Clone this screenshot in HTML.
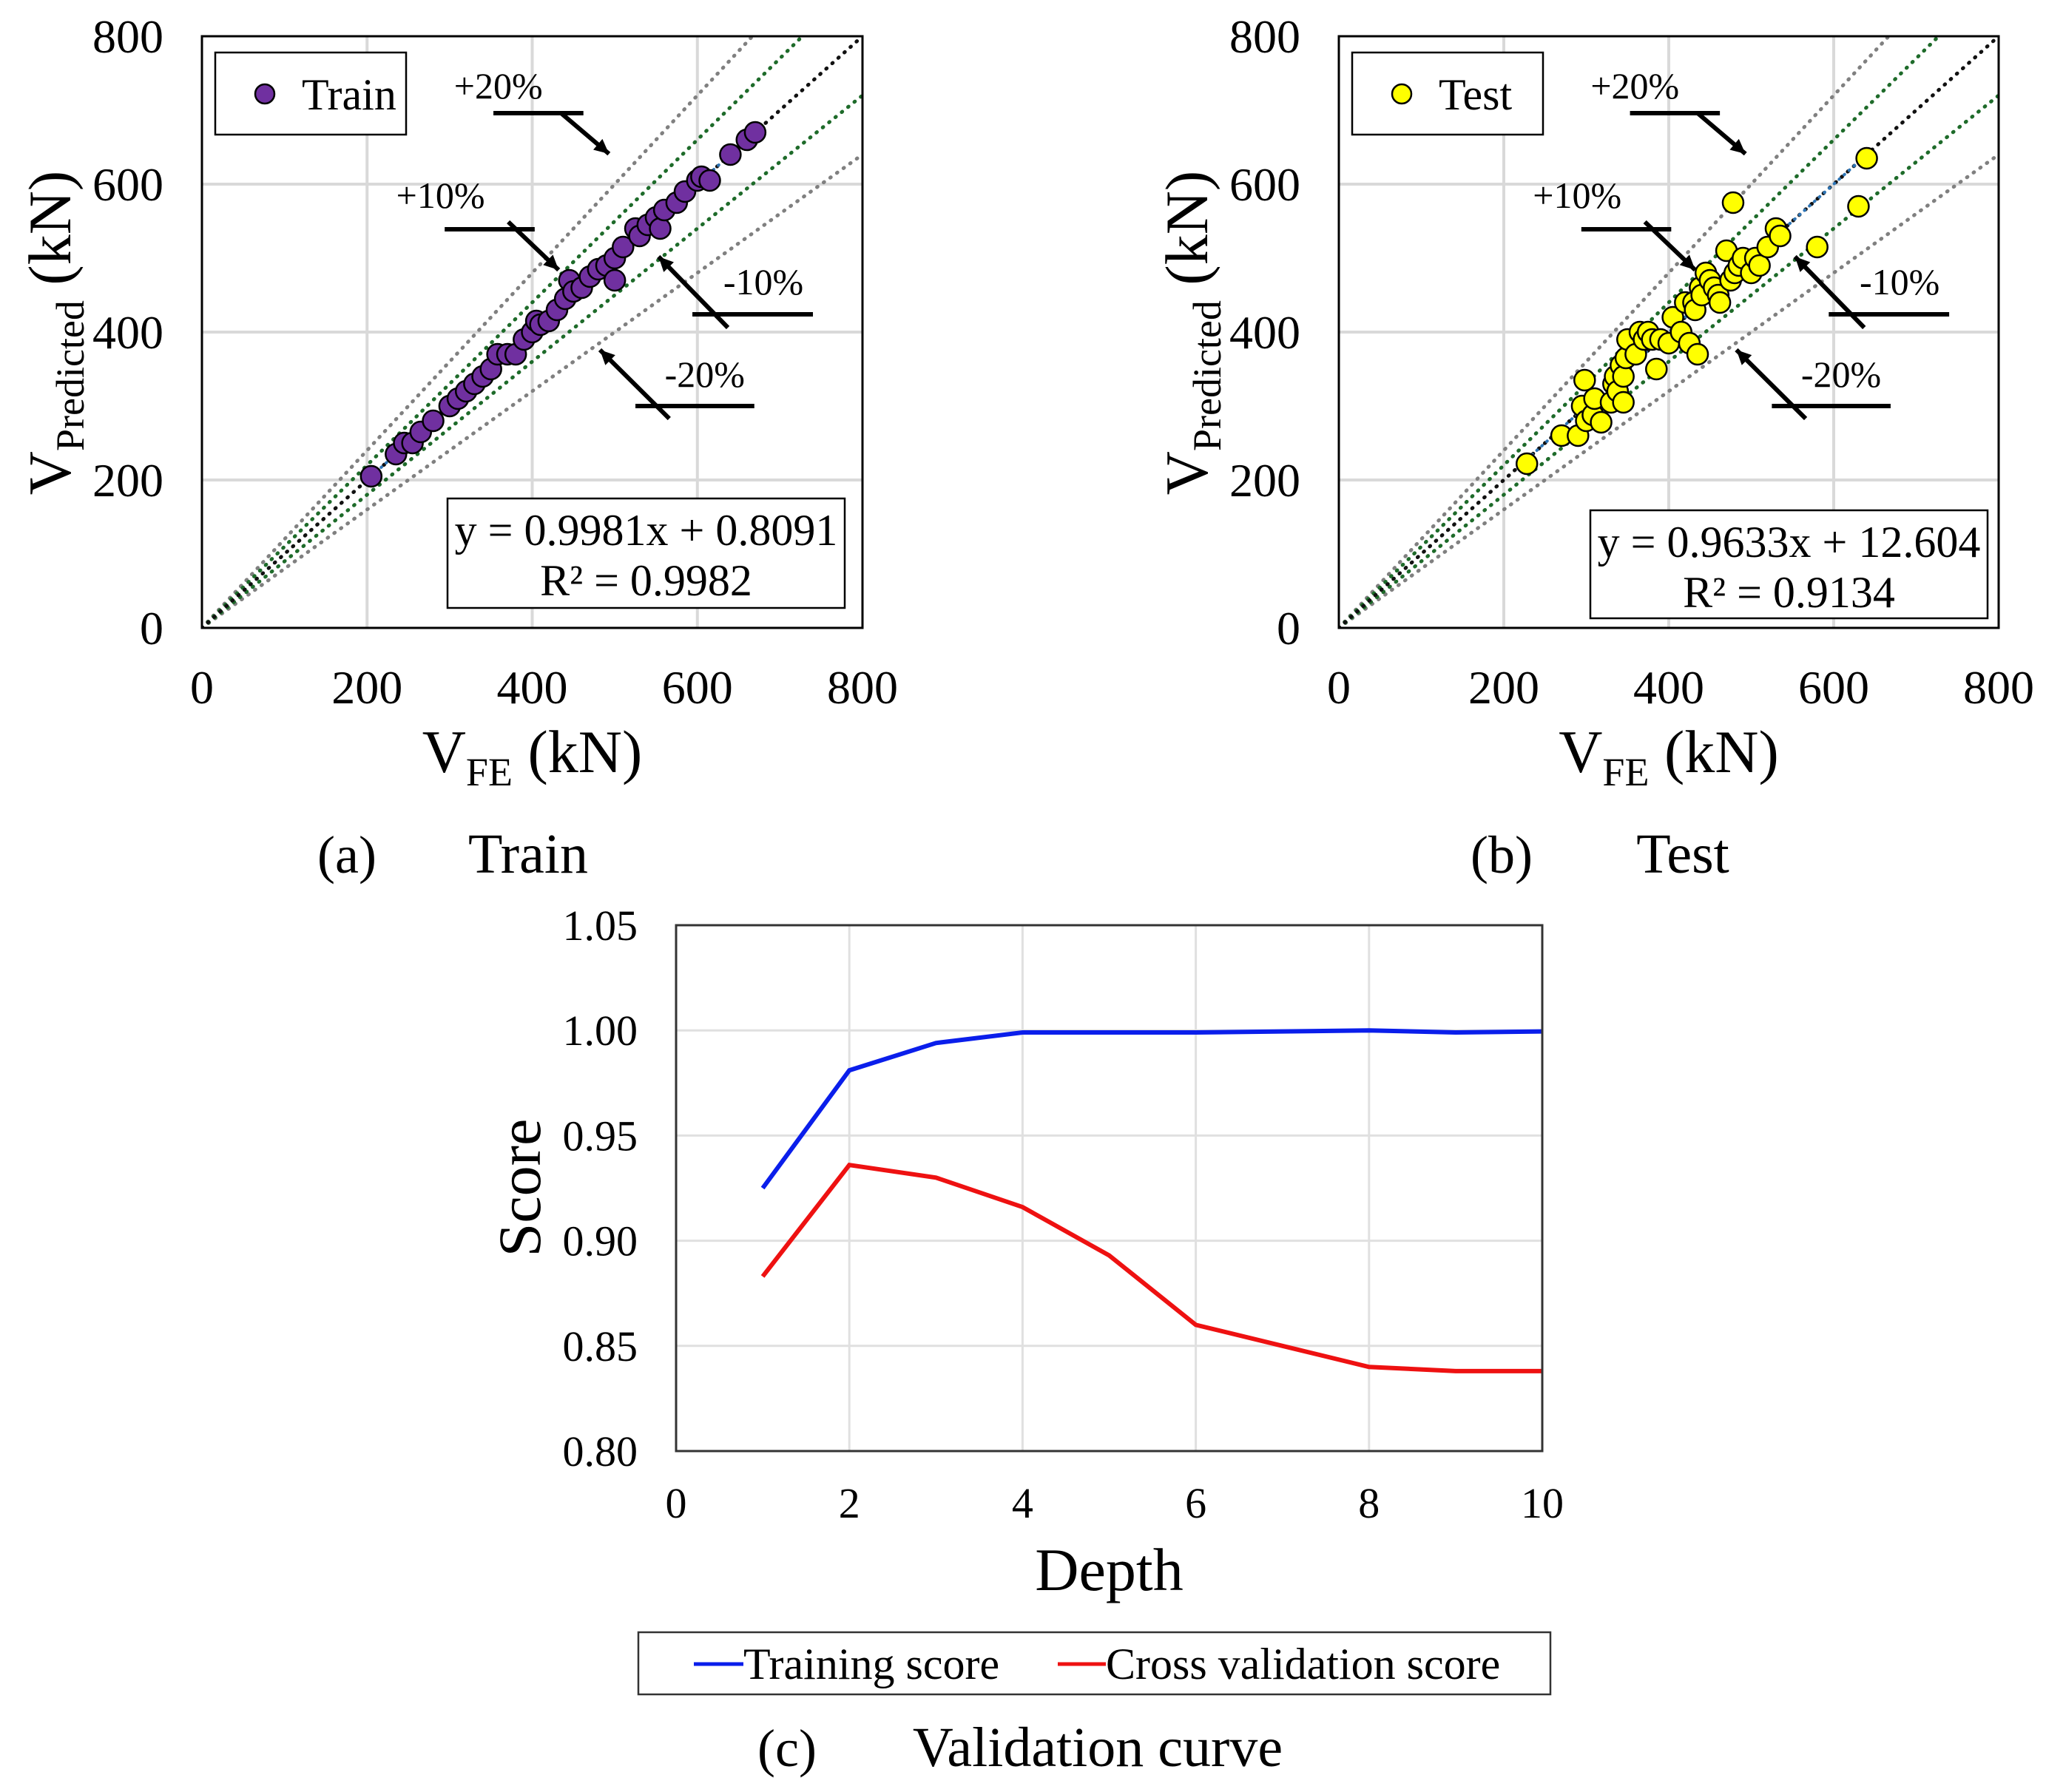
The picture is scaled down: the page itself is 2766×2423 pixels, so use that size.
<!DOCTYPE html>
<html><head><meta charset="utf-8"><style>
html,body{margin:0;padding:0;background:#fff}
svg{display:block;font-family:"Liberation Serif",serif}
</style></head><body>
<svg id="root" width="2766" height="2423" viewBox="0 0 2766 2423" xmlns="http://www.w3.org/2000/svg"></svg>
<script>
// ---- data ----
const trainX=[205,235,245,255,265,280,300,310,320,330,340,350,358,370,380,390,400,405,410,420,430,440,445,450,460,470,480,490,500,500,510,525,530,540,550,555,560,575,585,600,605,615,640,660,670];
const trainY=[205,235,250,250,265,280,300,310,320,330,340,350,370,370,370,390,400,415,410,415,430,445,470,455,460,475,485,490,470,500,515,540,530,545,555,540,565,575,590,605,610,605,640,660,670];
const testX=[228,270,290,295,298,300,308,310,318,330,333,335,338,342,345,345,348,350,360,365,370,375,380,385,390,400,405,415,420,425,430,432,435,438,440,445,450,455,460,462,470,475,478,480,485,490,500,505,510,520,530,535,580,630,640];
const testY=[222,260,260,300,335,280,288,310,278,305,330,340,320,355,305,340,365,390,370,400,390,400,390,350,390,385,420,400,440,385,440,430,370,460,450,480,470,460,450,440,510,470,575,480,490,500,480,500,490,515,540,530,515,570,635];
const scatTicks=[0,200,400,600,800];
const depth=[1,2,3,4,5,6,7,8,9,10];
const trainScore=[0.925,0.981,0.994,0.999,0.999,0.999,0.9995,1.000,0.999,0.9995];
const cvScore=[0.883,0.936,0.930,0.916,0.893,0.860,0.850,0.840,0.838,0.838];
const scoreTicks=[0.80,0.85,0.90,0.95,1.00,1.05];
const depthTicks=[0,2,4,6,8,10];

const NS="http://www.w3.org/2000/svg";
const root=document.getElementById('root');
function mk(tag,attrs,parent){const e=document.createElementNS(NS,tag);for(const k in attrs)e.setAttribute(k,attrs[k]);(parent||root).appendChild(e);return e;}

function scatterPanel(id,L,R,T,B,xs,ys,color,legendText,eq1,eq2,eqBox,caption,capX){
  const g=mk('g',{});
  
  
  const sx=v=>L+(v/800)*(R-L), sy=v=>B-(v/800)*(B-T);
  const clipId='clip'+id;
  const cp=mk('clipPath',{id:clipId},g);mk('rect',{x:L,y:T,width:R-L,height:B-T},cp);
  scatTicks.forEach(t=>{
    if(t>0&&t<800){
      const gx=mk('line',{x1:sx(t),x2:sx(t),y1:T,y2:B,stroke:'#d9d9d9','stroke-width':4},g);
      
      const gy=mk('line',{x1:L,x2:R,y1:sy(t),y2:sy(t),stroke:'#d9d9d9','stroke-width':4},g);
      
    }
    const xt=mk('text',{x:sx(t),y:B+102,'font-size':64,'text-anchor':'middle'},g);xt.textContent=t;
    
    const yt=mk('text',{x:L-52,y:sy(t)+22,'font-size':64,'text-anchor':'end'},g);yt.textContent=t;
    
  });
  const lines=[[1.2,'#808080'],[0.8,'#808080'],[1.1,'#1e6b2a'],[0.9,'#1e6b2a'],[1.0,'#111']];
  const lg=mk('g',{'clip-path':'url(#'+clipId+')'},g);
  lines.forEach(([k,c])=>{
    const ln=mk('line',{x1:sx(0),y1:sy(0),x2:sx(800),y2:sy(800*k),stroke:c,'stroke-width':5,'stroke-dasharray':'1 10','stroke-linecap':'round'},lg);
    
  });
  let mnx=Math.min(...xs),mxx=Math.max(...xs);
  const tr=mk('line',{x1:sx(mnx),y1:sy(mnx),x2:sx(mxx),y2:sy(mxx),stroke:'#2e75b6','stroke-width':4,'stroke-dasharray':'1 8','stroke-linecap':'round'},lg);
  
  xs.forEach((x,i)=>{
    const c=mk('circle',{cx:sx(x),cy:sy(ys[i]),r:14,fill:color,stroke:'#000','stroke-width':2.5},g);
    
  });
  const fr=mk('rect',{x:L,y:T,width:R-L,height:B-T,fill:'none',stroke:'#000','stroke-width':3},g);
  
  const ann=[['+20%',359,733,353,462,696,435,696,493,641],['+10%',289,585,294,403,539,371,549,432,484],
             ['-10%',680,468,594,740,424,637,406,553,502],['-20%',609,343,525,669,300,566,283,482,376]];
  ann.forEach(a=>{
    const t=mk('text',{x:sx(a[1]),y:sy(a[2])+17,'font-size':50,'text-anchor':'middle'},g);t.textContent=a[0];
    
    const h=mk('line',{x1:sx(a[3]),x2:sx(a[4]),y1:sy(a[5]),y2:sy(a[5]),stroke:'#000','stroke-width':6},g);
    
    const x1=sx(a[6]),y1=sy(a[7]),x2=sx(a[8]),y2=sy(a[9]);
    const ar=mk('line',{x1:x1,y1:y1,x2:x2,y2:y2,stroke:'#000','stroke-width':6},g);
    
    const ang=Math.atan2(y2-y1,x2-x1),s=22;
    const p=[[x2,y2],[x2-s*Math.cos(ang-0.45),y2-s*Math.sin(ang-0.45)],[x2-s*Math.cos(ang+0.45),y2-s*Math.sin(ang+0.45)]];
    const hd=mk('polygon',{points:p.map(q=>q.join(',')).join(' '),fill:'#000'},g);
    
  });
  const lgb=mk('rect',{x:L+18,y:T+22,width:258,height:111,fill:'#fff',stroke:'#000','stroke-width':2.5},g);
  
  const lc=mk('circle',{cx:L+85,cy:T+78,r:13,fill:color,stroke:'#000','stroke-width':2.5},g);
  
  const lt=mk('text',{x:L+135,y:T+99,'font-size':60},g);lt.textContent=legendText;
  
  const eb=mk('rect',{x:eqBox[0],y:eqBox[1],width:eqBox[2]-eqBox[0],height:eqBox[3]-eqBox[1],fill:'#fff',stroke:'#000','stroke-width':2.5},g);
  
  const cx=(eqBox[0]+eqBox[2])/2;
  const e1=mk('text',{x:cx,y:eqBox[1]+63,'font-size':60,'text-anchor':'middle'},g);e1.textContent=eq1;
  
  const e2=mk('text',{x:cx,y:eqBox[1]+131,'font-size':60,'text-anchor':'middle'},g);e2.textContent=eq2;
  
  const xtl=mk('text',{x:(L+R)/2,y:1044,'font-size':82,'text-anchor':'middle'},g);
  xtl.innerHTML='V<tspan font-size="54" dy="18">FE</tspan><tspan dy="-18"> (kN)</tspan>';
  
  const ytl=mk('text',{x:0,y:0,'font-size':82,'text-anchor':'middle',transform:'translate('+(L-178)+',450) rotate(-90)'},g);
  ytl.innerHTML='V<tspan font-size="54" dy="18">Predicted</tspan><tspan dy="-18"> (kN)</tspan>';
  
  const c1=mk('text',{x:capX,y:1180,'font-size':72,'text-anchor':'middle'},g);c1.textContent=caption[0];
  
  const c2=mk('text',{x:capX+245,y:1180,'font-size':76,'text-anchor':'middle'},g);c2.textContent=caption[1];
  
}
scatterPanel('train',273,1166,49,849,trainX,trainY,'#7030a0','Train','y = 0.9981x + 0.8091','R² = 0.9982',[605,674,1142,822],['(a)','Train'],469);
scatterPanel('test',1810,2702,49,849,testX,testY,'#ffff00','Test','y = 0.9633x + 12.604','R² = 0.9134',[2150,690,2687,836],['(b)','Test'],2030);

// ---- validation curve ----
(function(){
  const L=914,R=2085,T=1251,B=1962;
  const g=mk('g',{});
  
  const sx=v=>L+(v/10)*(R-L), sy=v=>B-((v-0.8)/0.25)*(B-T);
  depthTicks.forEach(t=>{
    if(t>0&&t<10){const gl=mk('line',{x1:sx(t),x2:sx(t),y1:T,y2:B,stroke:'#e0e0e0','stroke-width':3},g);
      }
    const tx=mk('text',{x:sx(t),y:B+90,'font-size':58,'text-anchor':'middle'},g);tx.textContent=t;
    
  });
  scoreTicks.forEach(t=>{
    if(t>0.801&&t<1.049){const gl=mk('line',{x1:L,x2:R,y1:sy(t),y2:sy(t),stroke:'#e0e0e0','stroke-width':3},g);
      }
    const ty=mk('text',{x:L-52,y:sy(t)+20,'font-size':58,'text-anchor':'end'},g);ty.textContent=t.toFixed(2);
    
  });
  const p1=mk('polyline',{points:depth.map((d,i)=>sx(d)+','+sy(trainScore[i])).join(' '),fill:'none',stroke:'#0a1eeb','stroke-width':6},g);
  
  const p2=mk('polyline',{points:depth.map((d,i)=>sx(d)+','+sy(cvScore[i])).join(' '),fill:'none',stroke:'#ee1111','stroke-width':6},g);
  
  const fr=mk('rect',{x:L,y:T,width:R-L,height:B-T,fill:'none',stroke:'#333','stroke-width':3},g);
  
  const xt=mk('text',{x:(L+R)/2,y:2150,'font-size':82,'text-anchor':'middle'},g);xt.textContent='Depth';
  
  const yt=mk('text',{x:0,y:0,'font-size':82,'text-anchor':'middle',transform:'translate(730,1606) rotate(-90)'},g);yt.textContent='Score';
  
  const lb=mk('rect',{x:863,y:2207,width:1233,height:84,fill:'#fff',stroke:'#333','stroke-width':2.5},g);
  
  const l1=mk('line',{x1:938,x2:1005,y1:2250,y2:2250,stroke:'#0a1eeb','stroke-width':5},g);
  
  const t1=mk('text',{x:1005,y:2270,'font-size':60},g);t1.textContent='Training score';
  
  const l2=mk('line',{x1:1430,x2:1495,y1:2250,y2:2250,stroke:'#ee1111','stroke-width':5},g);
  
  const t2=mk('text',{x:1495,y:2270,'font-size':60},g);t2.textContent='Cross validation score';
  
  const c1=mk('text',{x:1064,y:2388,'font-size':72,'text-anchor':'middle'},g);c1.textContent='(c)';
  
  const c2=mk('text',{x:1484,y:2388,'font-size':76,'text-anchor':'middle'},g);c2.textContent='Validation curve';
  
})();
</script>
</body></html>
